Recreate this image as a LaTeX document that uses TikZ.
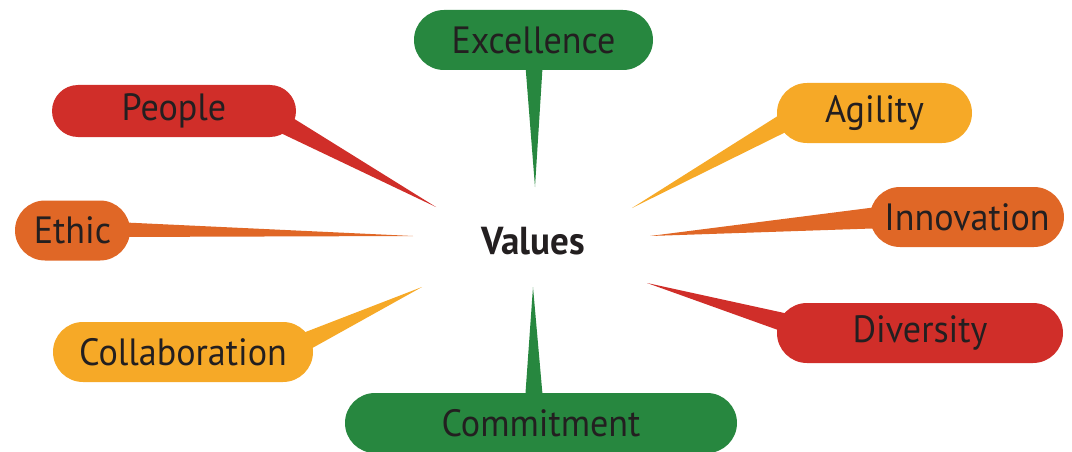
\documentclass[tikz,border=0pt]{standalone}
\usepackage{fontspec}
\setmainfont{PT Sans}[FakeStretch=0.95]
\definecolor{vgreen}{HTML}{27873F}
\definecolor{vred}{HTML}{D02E29}
\definecolor{vorange}{HTML}{E06726}
\definecolor{vyellow}{HTML}{F6A927}
\definecolor{vtext}{HTML}{231F20}
\tikzset{
  bubble/.style={rectangle, rounded corners=30pt, inner sep=0pt, text=vtext,
    font=\fontsize{38}{40}\selectfont, minimum height=60pt},
}
\begin{document}
\begin{tikzpicture}[x=1pt,y=-1pt]
\useasboundingbox (0,0) rectangle (1072,452);
% centre label
\node[text=vtext, font=\bfseries\fontsize{39}{41}\selectfont] (values) at (533,241) {Values};
% tips
\coordinate (tExc) at (535,187);
\coordinate (tCom) at (533,287);
\coordinate (tPeo) at (436,207);
\coordinate (tAgi) at (632,208);
\coordinate (tInn) at (650,236);
\coordinate (tDiv) at (647,283);
\coordinate (tEth) at (413,236);
\coordinate (tCol) at (422,287);
% tails
\fill[vgreen]  (525,60) -- (543,60) -- (tExc) -- cycle;
\fill[vgreen]  (525,400) -- (543,400) -- (tCom) -- cycle;
\fill[vred]    (280,110) -- (268,127) -- (tPeo) -- cycle;
\fill[vyellow] (792,107) -- (800,125) -- (tAgi) -- cycle;
\fill[vorange] (885,206) -- (887,228) -- (tInn) -- cycle;
\fill[vred]    (798,316) -- (792,335) -- (tDiv) -- cycle;
\fill[vorange] (115,222) -- (115,237) -- (tEth) -- cycle;
\fill[vyellow] (290,338) -- (298,356) -- (tCol) -- cycle;
% bubbles
\node[bubble, fill=vgreen,  minimum width=239pt] (exc) at (533.5,40) {Excellence};
\node[bubble, fill=vgreen,  minimum width=392pt] (com) at (541,423) {Commitment};
\node[bubble, fill=vred,    minimum width=244pt, minimum height=52pt, rounded corners=26pt] (peo) at (174,111) {People};
\node[bubble, fill=vyellow, minimum width=195pt] (agi) at (874.5,113) {Agility};
\node[bubble, fill=vorange, minimum width=194pt] (inn) at (967,217) {Innovation};
\node[bubble, fill=vred,    minimum width=286pt] (div) at (920,333) {Diversity};
\node[bubble, fill=vorange, minimum width=115pt] (eth) at (72.5,230.5) {Ethic};
\node[bubble, fill=vyellow, minimum width=260pt] (col) at (183,352) {Collaboration};
\end{tikzpicture}
\end{document}
